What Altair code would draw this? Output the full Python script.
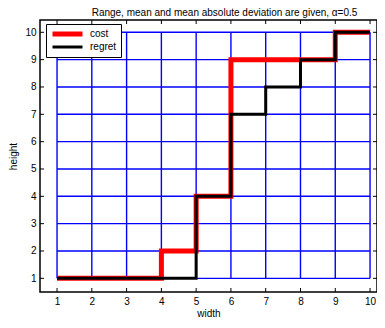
import altair as alt
import pandas as pd

# ---- data ----
x_vals = [1, 2, 3, 4, 5, 6, 7, 8, 9, 10]
cost = [1, 1, 1, 2, 4, 9, 9, 9, 10, 10]
regret = [1, 1, 1, 1, 4, 7, 8, 9, 10, 10]
series_names = ["cost", "regret"]
series_colors = ["#ff0000", "#000000"]
x_ticks = [1, 2, 3, 4, 5, 6, 7, 8, 9, 10]
y_ticks = [1, 2, 3, 4, 5, 6, 7, 8, 9, 10]
title_text = "Range, mean and mean absolute deviation are given, \u03b1=0.5"

W, H = 337, 272
FONT = "Liberation Sans"

lines_df = pd.DataFrame(
    {"x": x_vals * 2,
     "y": cost + regret,
     "series": ["cost"] * len(x_vals) + ["regret"] * len(x_vals),
     "order": list(range(len(x_vals))) * 2}
)

vgrid = pd.DataFrame({"x": x_ticks, "y": [min(y_ticks)] * len(x_ticks), "y2": [max(y_ticks)] * len(x_ticks)})
hgrid = pd.DataFrame({"y": y_ticks, "x": [min(x_ticks)] * len(y_ticks), "x2": [max(x_ticks)] * len(y_ticks)})
xt = pd.DataFrame({"x": x_ticks})
yt = pd.DataFrame({"y": y_ticks})

xs = alt.Scale(domain=[0.51, 10.2], nice=False, zero=False)
ys = alt.Scale(domain=[0.5, 10.45], nice=False, zero=False)

x_axis = alt.Axis(values=x_ticks, ticks=False, domain=False, grid=False,
                  labelFontSize=10, labelPadding=4, labelColor="black",
                  labelFont=FONT, title="width", titleFontSize=10,
                  titleFontWeight="normal", titleFont=FONT, titleColor="black",
                  titlePadding=2)
y_axis = alt.Axis(values=y_ticks, ticks=False, domain=False, grid=False,
                  labelFontSize=10, labelPadding=4, labelColor="black",
                  labelFont=FONT, title="height", titleFontSize=10,
                  titleFontWeight="normal", titleFont=FONT, titleColor="black",
                  titlePadding=6)

X = lambda f: alt.X(f, scale=xs, axis=x_axis, title="width")
Y = lambda f: alt.Y(f, scale=ys, axis=y_axis, title="height")

grid_v = alt.Chart(vgrid).mark_rule(color="#0000ff", strokeWidth=1.4).encode(
    x=X("x:Q"), y=Y("y:Q"), y2="y2:Q",
)
grid_h = alt.Chart(hgrid).mark_rule(color="#0000ff", strokeWidth=1.4).encode(
    y=Y("y:Q"), x=X("x:Q"), x2="x2:Q",
)

tick_style = dict(color="black", strokeWidth=1)
tick_bottom = alt.Chart(xt).mark_rule(**tick_style).encode(
    x=X("x:Q"), y=alt.value(H), y2=alt.value(H - 4))
tick_top = alt.Chart(xt).mark_rule(**tick_style).encode(
    x=X("x:Q"), y=alt.value(0), y2=alt.value(4))
tick_left = alt.Chart(yt).mark_rule(**tick_style).encode(
    y=Y("y:Q"), x=alt.value(0), x2=alt.value(4))
tick_right = alt.Chart(yt).mark_rule(**tick_style).encode(
    y=Y("y:Q"), x=alt.value(W - 4), x2=alt.value(W))

legend = alt.Legend(
    title=None, orient="none", legendX=6, legendY=4,
    strokeColor="black", fillColor="white", padding=4, cornerRadius=0,
    symbolType="stroke", symbolSize=900, clipHeight=12, rowPadding=1,
    labelFontSize=10, labelOffset=5, labelFont=FONT, labelColor="black",
)

lines = alt.Chart(lines_df).mark_line(interpolate="step-after").encode(
    x=X("x:Q"),
    y=Y("y:Q"),
    color=alt.Color("series:N", scale=alt.Scale(domain=series_names, range=series_colors),
                    legend=legend),
    strokeWidth=alt.StrokeWidth("series:N", scale=alt.Scale(domain=series_names, range=[5, 3]),
                                legend=legend),
    order="order:Q",
)

chart = alt.layer(grid_v, grid_h, tick_bottom, tick_top, tick_left, tick_right, lines).properties(
    width=W, height=H,
    title=alt.TitleParams(title_text, fontSize=10, font=FONT, fontWeight="normal",
                          color="black", offset=2, dx=16),
    autosize=alt.AutoSizeParams(type="none"),
    padding={"left": 32, "top": 12, "right": 0, "bottom": 28},
).configure(font=FONT).configure_view(stroke="black", strokeWidth=1.5)

chart.save("out.html", embed_options={"renderer": "svg", "actions": False})
